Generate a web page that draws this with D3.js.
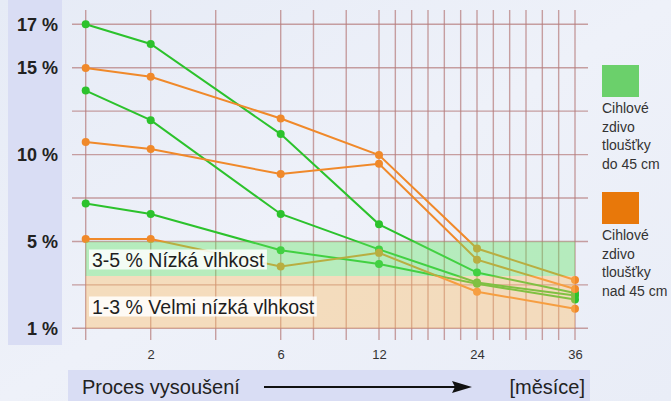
<!DOCTYPE html>
<html>
<head>
<meta charset="utf-8">
<script src="https://cdn.jsdelivr.net/npm/d3@7"></script>
<style>
  body { margin: 0; padding: 0; }
  svg { display: block; font-family: "Liberation Sans", Arial, sans-serif; }
</style>
</head>
<body>
<div class="viz"></div>
<script>
// Set up SVG
var w = 671;
var h = 401;

var svg = d3.select('.viz')
            .append("svg")
            .attr("width", w)
            .attr("height", h);

// Data: months and moisture (%) of each wall sample
var months = [0, 2, 6, 12, 24, 36];
var green1 = [17, 16.1, 11.2, 6.0, 3.2, 2.35];
var green2 = [13.7, 12.0, 6.6, 4.55, 2.75, 2.25];
var green3 = [7.2, 6.6, 4.5, 3.7, 2.7, 2.1];
var orange1 = [15, 14.5, 12.1, 10, 4.6, 2.85];
var orange2 = [10.75, 10.35, 8.9, 9.5, 3.95, 2.5];
var orange3 = [5.15, 5.15, 3.55, 4.35, 2.4, 1.75];

var xTicks = [2, 6, 12, 24, 36];
var yTicks = [1, 5, 10, 15, 17];
var bands = [{from: 3, to: 5, label: '3-5 % Nízká vlhkost'},
             {from: 1, to: 3, label: '1-3 % Velmi nízká vlhkost'}];
var legendItems = [{lines: ['Cihlové', 'zdivo', 'tloušťky', 'do 45 cm']},
                   {lines: ['Cihlové', 'zdivo', 'tloušťky', 'nad 45 cm']}];

var green = '#2cc22c';
var orange = '#f0892a';

// Scales (both axes are stretched piecewise in the original)
var x = d3.scaleLinear().domain([0, 6, 12, 36]).range([85.7, 280.7, 379, 575]);
var y = d3.scaleLinear().domain([1, 3, 5, 10, 15, 17]).range([328.3, 276, 241.7, 155, 68, 24.3]);
var gridY = d3.scaleLinear().domain([0, 7]).range([y(17), y(1)]);

// Background
var defs = svg.append('defs');
var grad = defs.append('linearGradient').attr('id', 'bg')
               .attr('x1', 0).attr('y1', 0).attr('x2', 1).attr('y2', 1);
grad.append('stop').attr('offset', '0%').attr('stop-color', '#e6ebf6');
grad.append('stop').attr('offset', '50%').attr('stop-color', '#eef1f9');
grad.append('stop').attr('offset', '100%').attr('stop-color', '#e9edf7');
svg.append('rect').attr('width', w).attr('height', h).attr('fill', 'url(#bg)');

// Side panel for y labels and bottom panel for x title
svg.append('rect').attr('x', 8).attr('y', 0).attr('width', 54).attr('height', 345).attr('fill', '#d9ddf4');
svg.append('rect').attr('x', 68).attr('y', 370).attr('width', 522).attr('height', 31).attr('fill', '#d9ddf4');

// Grid
var grid = svg.append('g').attr('stroke', '#b57a7a').attr('stroke-opacity', 0.7).attr('stroke-width', 1.4);
grid.selectAll('.vline')
    .data(d3.range(0, 37, 2))
    .enter().append('line')
    .attr('x1', function(d) { return x(d); })
    .attr('x2', function(d) { return x(d); })
    .attr('y1', 10).attr('y2', 340);
grid.selectAll('.hline')
    .data(d3.range(0, 8))
    .enter().append('line')
    .attr('x1', 72).attr('x2', 588)
    .attr('y1', function(d) { return gridY(d); })
    .attr('y2', function(d) { return gridY(d); });

// Lines and points
var series = [
  {values: green1, color: green}, {values: green2, color: green}, {values: green3, color: green},
  {values: orange1, color: orange}, {values: orange2, color: orange}, {values: orange3, color: orange}
];
var line = d3.line()
             .x(function(d, i) { return x(months[i]); })
             .y(function(d) { return y(d); });

series.forEach(function(s) {
  svg.append('path')
     .attr('d', line(s.values))
     .attr('fill', 'none')
     .attr('stroke', s.color)
     .attr('stroke-width', 2);
  svg.selectAll(null)
     .data(s.values)
     .enter().append('circle')
     .attr('cx', function(d, i) { return x(months[i]); })
     .attr('cy', function(d) { return y(d); })
     .attr('r', 4)
     .attr('fill', s.color);
});

// Moisture bands, drawn on top half transparent
var bandColors = ['#64e664', '#ffbe64'];
svg.selectAll('.band')
   .data(bands)
   .enter().append('rect')
   .attr('x', x(0))
   .attr('width', x(36) - x(0))
   .attr('y', function(d) { return y(d.to); })
   .attr('height', function(d) { return y(d.from) - y(d.to); })
   .attr('fill', function(d, i) { return bandColors[i]; })
   .attr('fill-opacity', 0.4);

// Band labels on white boxes
var labelY = [259.5, 306.5];
bands.forEach(function(b, i) {
  var t = svg.append('text')
             .attr('x', 92)
             .attr('y', labelY[i])
             .attr('dy', '0.36em')
             .attr('font-size', '19.5px')
             .attr('fill', '#1e1e1e')
             .text(b.label);
  var bb = t.node().getBBox();
  svg.insert('rect', function() { return t.node(); })
     .attr('x', bb.x - 3)
     .attr('y', labelY[i] - 10)
     .attr('width', bb.width + 5)
     .attr('height', 20)
     .attr('fill', '#ffffff')
     .attr('fill-opacity', 0.85);
});

// Y axis labels
svg.append('g')
   .attr('transform', 'translate(58,0)')
   .call(d3.axisLeft(y).tickValues(yTicks).tickSize(0).tickPadding(0)
            .tickFormat(function(d) { return d + ' %'; }))
   .call(function(g) { g.select('.domain').remove(); })
   .selectAll('text')
   .attr('font-family', '"Liberation Sans", Arial, sans-serif')
   .attr('font-size', '18px')
   .attr('font-weight', 'bold')
   .attr('fill', '#222');

// X axis labels
svg.append('g')
   .attr('transform', 'translate(0,350)')
   .call(d3.axisBottom(x).tickValues(xTicks).tickSize(0).tickPadding(0))
   .call(function(g) { g.select('.domain').remove(); })
   .selectAll('text')
   .attr('font-family', '"Liberation Sans", Arial, sans-serif')
   .attr('font-size', '13px')
   .attr('fill', '#333');

// X title with arrow
svg.append('text').attr('x', 82).attr('y', 394).attr('font-size', '20px').attr('fill', '#222').text('Proces vysoušení');
svg.append('line').attr('x1', 264).attr('x2', 458).attr('y1', 387).attr('y2', 387)
   .attr('stroke', '#111').attr('stroke-width', 2.2);
svg.append('path').attr('d', 'M472,387 L452,381 L455,387 L452,393 Z').attr('fill', '#111');
svg.append('text').attr('x', 585).attr('y', 394).attr('text-anchor', 'end')
   .attr('font-size', '20px').attr('fill', '#222').text('[měsíce]');

// Legend
var legendColors = ['#6bd06b', '#e8780a'];
var legendTop = [65, 192];
legendItems.forEach(function(item, i) {
  svg.append('rect')
     .attr('x', 602).attr('y', legendTop[i])
     .attr('width', 37).attr('height', 32)
     .attr('fill', legendColors[i]);
  svg.selectAll(null)
     .data(item.lines)
     .enter().append('text')
     .attr('x', 602)
     .attr('y', function(d, j) { return legendTop[i] + 48 + j * 18.5; })
     .attr('font-size', '14px')
     .attr('fill', '#333')
     .text(function(d) { return d; });
});
</script>
</body>
</html>
